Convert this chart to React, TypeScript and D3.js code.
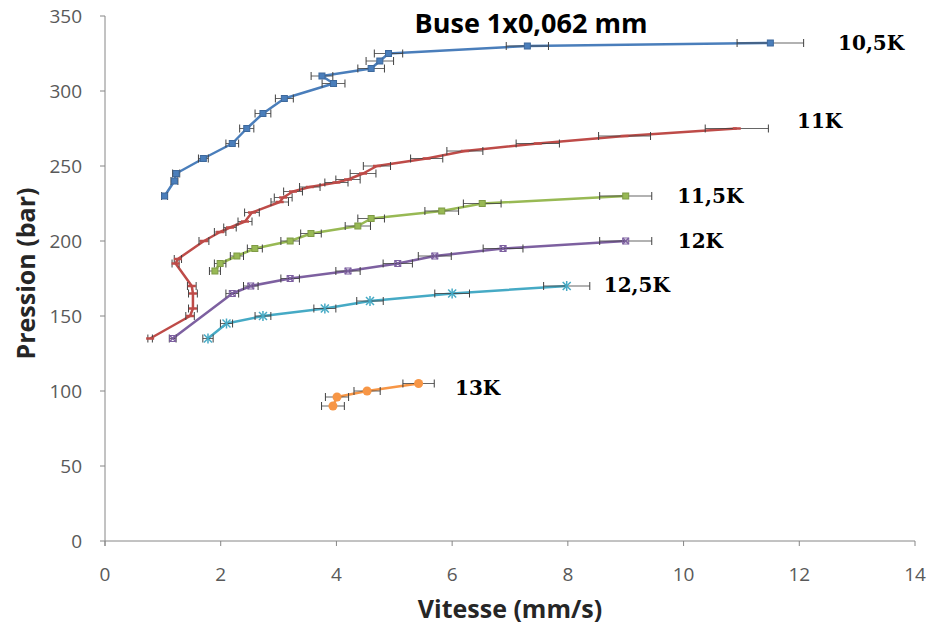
import React from "react";
import * as d3 from "d3";

const seriesNames = ["10,5K", "11K", "11,5K", "12K", "12,5K", "13K"];
const seriesColors = ["#4a7ebb", "#be4b48", "#98b954", "#7d60a0", "#46aac5", "#f79646"];
const seriesMarkers = ["square", "dash", "square", "x", "star", "circle"];

const s105x = [1.03, 1.2, 1.23, 1.7, 2.2, 2.45, 2.73, 3.1, 3.95, 3.75, 4.6, 4.75, 4.9, 7.3, 11.5];
const s105y = [230, 240, 245, 255, 265, 275, 285, 295, 305, 310, 315, 320, 325, 330, 332];
const s11x = [0.78, 1.47, 1.52, 1.52, 1.5, 1.22, 1.26, 1.71, 1.99, 2.16, 2.42, 2.54, 3.02, 3.08, 3.25, 3.54, 4.0, 4.2, 4.46, 4.7, 5.56, 6.22, 7.48, 8.98, 10.92];
const s11y = [135, 150, 155, 165, 170, 185, 188, 200, 206, 209, 213, 219, 226, 229, 233, 236, 239, 241, 245, 250, 255, 260, 265, 270, 275];
const s115x = [1.9, 1.99, 2.28, 2.59, 3.2, 3.56, 4.37, 4.6, 5.82, 6.52, 9.0];
const s115y = [180, 185, 190, 195, 200, 205, 210, 215, 220, 225, 230];
const s12x = [1.17, 2.2, 2.52, 3.2, 4.2, 5.06, 5.7, 6.88, 9.0];
const s12y = [135, 165, 170, 175, 180, 185, 190, 195, 200];
const s125x = [1.78, 2.1, 2.73, 3.8, 4.58, 6.0, 7.98];
const s125y = [135, 145, 150, 155, 160, 165, 170];
const s13x = [3.94, 4.01, 4.53, 5.42];
const s13y = [90, 96, 100, 105];

const seriesX = [s105x, s11x, s115x, s12x, s125x, s13x];
const seriesY = [s105y, s11y, s115y, s12y, s125y, s13y];
// label anchor positions (data units)
const labelX = [12.67, 11.96, 9.89, 9.9, 8.62, 6.05];
const labelY = [332, 280, 230, 200, 171, 102];

const xTicks = [0, 2, 4, 6, 8, 10, 12, 14];
const yTicks = [0, 50, 100, 150, 200, 250, 300, 350];
const ERROR_PCT = 0.05;

const title = "Buse 1x0,062 mm";
const xTitle = "Vitesse (mm/s)";
const yTitle = "Pression (bar)";

const W = 930, H = 630;
const left = 105, right = 915, top = 16, bottom = 541;

function Marker({ type, x, y, color }: { type: string; x: number; y: number; color: string }) {
  const s = 3;
  if (type === "square")
    return <rect x={x - s} y={y - s} width={2 * s} height={2 * s} fill={color} stroke={d3.color(color)!.darker(0.5).toString()} strokeWidth={1} />;
  if (type === "dash")
    return <line x1={x - 4} x2={x + 4} y1={y} y2={y} stroke={color} strokeWidth={2.5} />;
  if (type === "x")
    return (
      <g stroke={color} strokeWidth={1.5}>
        <line x1={x - s} y1={y - s} x2={x + s} y2={y + s} />
        <line x1={x - s} y1={y + s} x2={x + s} y2={y - s} />
        <rect x={x - s} y={y - s} width={2 * s} height={2 * s} fill="none" strokeWidth={1} />
      </g>
    );
  if (type === "star")
    return (
      <g stroke={color} strokeWidth={1.5}>
        <line x1={x - 4} y1={y - 4} x2={x + 4} y2={y + 4} />
        <line x1={x - 4} y1={y + 4} x2={x + 4} y2={y - 4} />
        <line x1={x} y1={y - 5} x2={x} y2={y + 5} />
      </g>
    );
  return <circle cx={x} cy={y} r={4.5} fill={color} />;
}

export default function App() {
  const xs = d3.scaleLinear().domain([0, 14]).range([left, right]);
  const ys = d3.scaleLinear().domain([0, 350]).range([bottom, top]);
  const line = d3.line<[number, number]>().x((d) => xs(d[0])).y((d) => ys(d[1]));
  const axisColor = "#868686";
  const textColor = "#595959";

  return (
    <svg width={W} height={H} style={{ position: "absolute", left: 0, top: 0, background: "#fff" }}>
      {/* axes */}
      <line x1={left} x2={left} y1={top} y2={bottom + 5} stroke={axisColor} strokeWidth={1} />
      <line x1={left} x2={right} y1={bottom} y2={bottom} stroke={axisColor} strokeWidth={1} />
      {yTicks.map((t) => (
        <g key={"y" + t}>
          <line x1={left - 5} x2={left} y1={ys(t)} y2={ys(t)} stroke={axisColor} />
          <text x={left - 23} y={ys(t)} dy="0.35em" textAnchor="end" fontFamily="Open Sans" fontSize={19} fill={textColor}>
            {t}
          </text>
        </g>
      ))}
      {xTicks.map((t) => (
        <g key={"x" + t}>
          <line x1={xs(t)} x2={xs(t)} y1={bottom} y2={bottom + 5} stroke={axisColor} />
          <text x={xs(t)} y={bottom + 40} textAnchor="middle" fontFamily="Open Sans" fontSize={19} fill={textColor}>
            {t}
          </text>
        </g>
      ))}
      <text x={510} y={618} textAnchor="middle" fontFamily="Open Sans" fontWeight="bold" fontSize={25} fill="#262626">
        {xTitle}
      </text>
      <text transform={`translate(35,${(top + bottom) / 2 - 5}) rotate(-90)`} textAnchor="middle" fontFamily="Open Sans" fontWeight="bold" fontSize={25} fill="#262626">
        {yTitle}
      </text>
      <text x={531} y={33} textAnchor="middle" fontFamily="Open Sans" fontWeight="bold" fontSize={27} fill="#000">
        {title}
      </text>

      {seriesNames.map((name, i) => {
        const pts: [number, number][] = seriesX[i].map((x, k) => [x, seriesY[i][k]]);
        const color = seriesColors[i];
        return (
          <g key={name}>
            <path d={line(pts) || ""} fill="none" stroke={color} strokeWidth={2.5} strokeLinejoin="round" />
            {pts.map(([x, y], k) => {
              const x0 = xs(x * (1 - ERROR_PCT)), x1 = xs(x * (1 + ERROR_PCT)), py = ys(y);
              return (
                <g key={"e" + k} stroke="#404040" strokeWidth={1}>
                  <line x1={x0} x2={x1} y1={py} y2={py} strokeOpacity={0.8} />
                  <line x1={x0} x2={x0} y1={py - 4} y2={py + 4} />
                  <line x1={x1} x2={x1} y1={py - 4} y2={py + 4} />
                </g>
              );
            })}
            {pts.map(([x, y], k) => (
              <Marker key={"m" + k} type={seriesMarkers[i]} x={xs(x)} y={ys(y)} color={color} />
            ))}
            <text x={xs(labelX[i])} y={ys(labelY[i])} dy="0.35em" fontFamily="DejaVu Serif" fontWeight="bold" fontSize={20} fill="#000">
              {name}
            </text>
          </g>
        );
      })}
    </svg>
  );
}
